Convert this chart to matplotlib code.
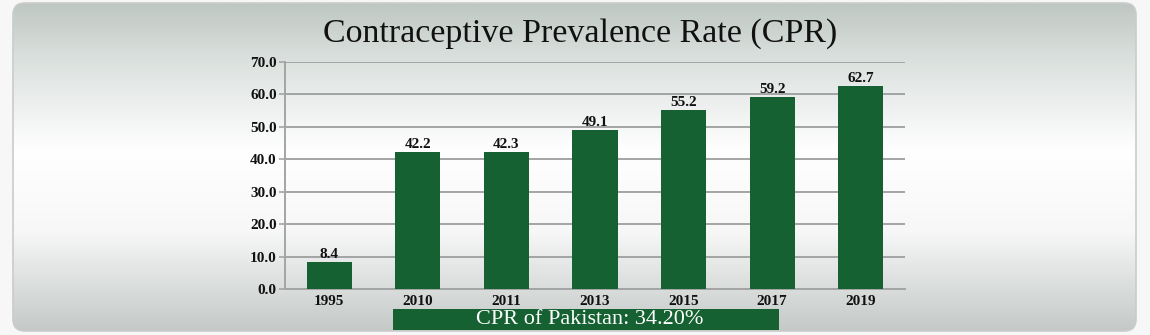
import numpy as np
import matplotlib.pyplot as plt
from matplotlib.patches import FancyBboxPatch, Rectangle

years = ["1995", "2010", "2011", "2013", "2015", "2017", "2019"]
cpr = [8.4, 42.2, 42.3, 49.1, 55.2, 59.2, 62.7]
y_ticks = [0, 10, 20, 30, 40, 50, 60, 70]
title = "Contraceptive Prevalence Rate (CPR)"
note = "CPR of Pakistan: 34.20%"

GREEN = "#156131"
SERIF = ["Liberation Serif", "DejaVu Serif"]

fig = plt.figure(figsize=(11.5, 3.35), dpi=100)
fig.patch.set_facecolor("#f6f7f6")

# background panel with vertical gradient
bg = fig.add_axes([0, 0, 1, 1], zorder=-5)
bg.set_xlim(0, 1150)
bg.set_ylim(335, 0)
bg.axis("off")
stops_y = [0, 0.15, 0.45, 0.7, 1.0]
stops_c = np.array([[190, 199, 194], [216, 222, 219], [255, 255, 255],
                    [246, 247, 246], [196, 201, 199]]) / 255
yy = np.linspace(0, 1, 300)
grad = np.stack([np.interp(yy, stops_y, stops_c[:, k]) for k in range(3)], axis=-1)
grad = np.repeat(grad[:, None, :], 2, axis=1)
panel = FancyBboxPatch((13, 3), 1123, 328, boxstyle="round,pad=0,rounding_size=12",
                       facecolor="none", edgecolor="#c9cccb", lw=1.2)
bg.add_patch(panel)
im = bg.imshow(grad, extent=(13, 1136, 331, 3), aspect="auto", interpolation="bilinear")
im.set_clip_path(panel)

bg.text(580, 34, title, ha="center", va="center", fontsize=24.5,
        family=SERIF, color="#111111")

# note box under the chart
bg.add_patch(Rectangle((393, 309), 386, 21, facecolor=GREEN, edgecolor="none"))
bg.text(590, 320, note, ha="center", va="center", fontsize=16,
        family=SERIF, color="white")

ax = fig.add_axes([285 / 1150, 1 - 289 / 335, 620 / 1150, 227 / 335])
ax.set_facecolor("none")
x = np.arange(len(years))
bars = ax.bar(x, cpr, width=0.51, color=GREEN, zorder=3)
ax.bar_label(bars, labels=[f"{v:.1f}" for v in cpr], padding=0.5,
             fontsize=11, fontweight="bold", family=SERIF, color="#111111")

ax.set_xlim(-0.5, len(years) - 0.5)
ax.set_ylim(0, 70)
ax.set_yticks(y_ticks)
ax.set_yticklabels([f"{t:.1f}" for t in y_ticks])
ax.set_xticks(x)
ax.set_xticklabels(years)
for lab in ax.get_xticklabels() + ax.get_yticklabels():
    lab.set_family(SERIF)
    lab.set_fontweight("bold")
    lab.set_fontsize(11)
    lab.set_color("#111111")

ax.grid(axis="y", color="#a3a5a4", lw=1.4, zorder=1)
ax.tick_params(axis="y", length=4, width=1.2, color="#a3a5a4", pad=2)
ax.tick_params(axis="x", length=0, pad=4)
for s in ["top", "right"]:
    ax.spines[s].set_visible(False)
for s in ["left", "bottom"]:
    ax.spines[s].set_color("#a3a5a4")
    ax.spines[s].set_linewidth(1.4)

fig.savefig("out.png", dpi=100, facecolor=fig.get_facecolor())
